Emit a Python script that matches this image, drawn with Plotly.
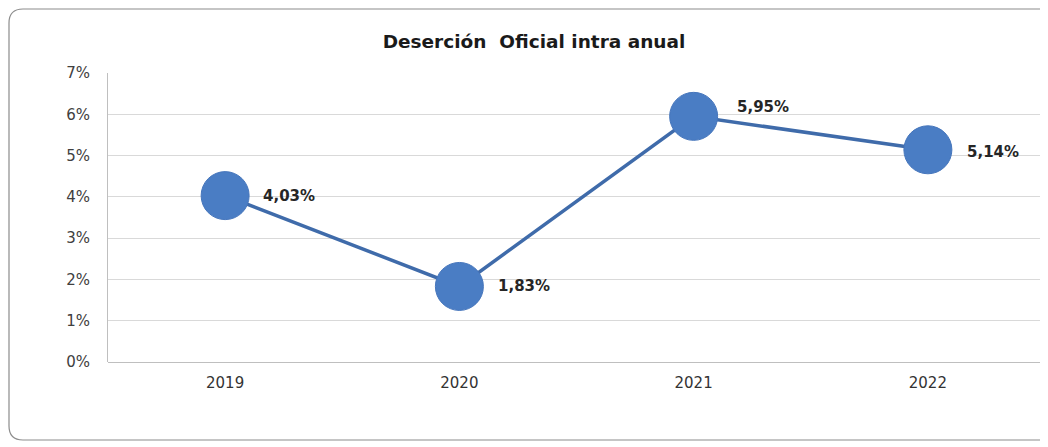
import plotly.graph_objects as go

years = ["2019", "2020", "2021", "2022"]
desercion = [4.03, 1.83, 5.95, 5.14]
labels = [f"{v:.2f}".replace(".", ",") + "%" for v in desercion]

# label placement (style): pixel shifts from each marker centre
label_dx = [36, 37, 41, 37]
label_dy = [0, 0, 9, -2]

W, H = 1040, 439
L, R, T, B = 100, 3, 65, 85
pw, ph = W - L - R, H - T - B

def px(x):
    return (x - L) / pw

def py(y):
    return (H - B - y) / ph

FONT = "DejaVu Sans, Liberation Sans, Arial"

fig = go.Figure()
fig.add_trace(go.Scatter(
    x=years, y=desercion, mode="lines+markers",
    line=dict(color="#3F6BAA", width=3.5),
    marker=dict(size=48, color="#4A7DC4", line=dict(color="#4676BC", width=1)),
    cliponaxis=False, showlegend=False, hoverinfo="x+y",
))

for i, (v, t, dx, dy) in enumerate(zip(desercion, labels, label_dx, label_dy)):
    fig.add_annotation(x=i, y=v, text=t, showarrow=False, xanchor="left", yanchor="middle",
                       xshift=dx, yshift=dy,
                       font=dict(family=FONT, size=15, color="#262626", weight="bold"))

# rounded outer border
x0, x1, y0, y1 = px(1), px(1046), py(1), py(432)
rx, ry = 14 / pw, 14 / ph
path = (f"M {x0+rx},{y0} L {x1},{y0} L {x1},{y1} L {x0+rx},{y1} "
        f"Q {x0},{y1} {x0},{y1+ry} L {x0},{y0-ry} Q {x0},{y0} {x0+rx},{y0} ")
fig.add_shape(type="path", path=path, xref="paper", yref="paper",
              line=dict(color="#8c8c8c", width=1.2), layer="below")

fig.update_layout(
    width=W, height=H,
    margin=dict(l=L, r=R, t=T, b=B, autoexpand=False),
    paper_bgcolor="white", plot_bgcolor="white",
    title=dict(text="Deserción\u00a0 Oficial intra anual", x=526 / W, xref="container", xanchor="center",
               y=1 - 34 / H, yref="container", yanchor="middle",
               font=dict(family=FONT, size=18.5, color="#1a1a1a", weight="bold")),
    xaxis=dict(type="category", range=[-0.5, 3.5], showgrid=False, showline=False, ticks="",
               tickfont=dict(family=FONT, size=15, color="#333333"),
               ticklabelstandoff=10),
    yaxis=dict(range=[0, 7], dtick=1, ticksuffix="%", showgrid=True, gridcolor="#d9d9d9",
               gridwidth=1, showline=True, linecolor="#bfbfbf", linewidth=1,
               zeroline=True, zerolinecolor="#bfbfbf", zerolinewidth=1,
               tickfont=dict(family=FONT, size=15, color="#404040"),
               ticklabelstandoff=14),
)

fig.write_html("out.html")
